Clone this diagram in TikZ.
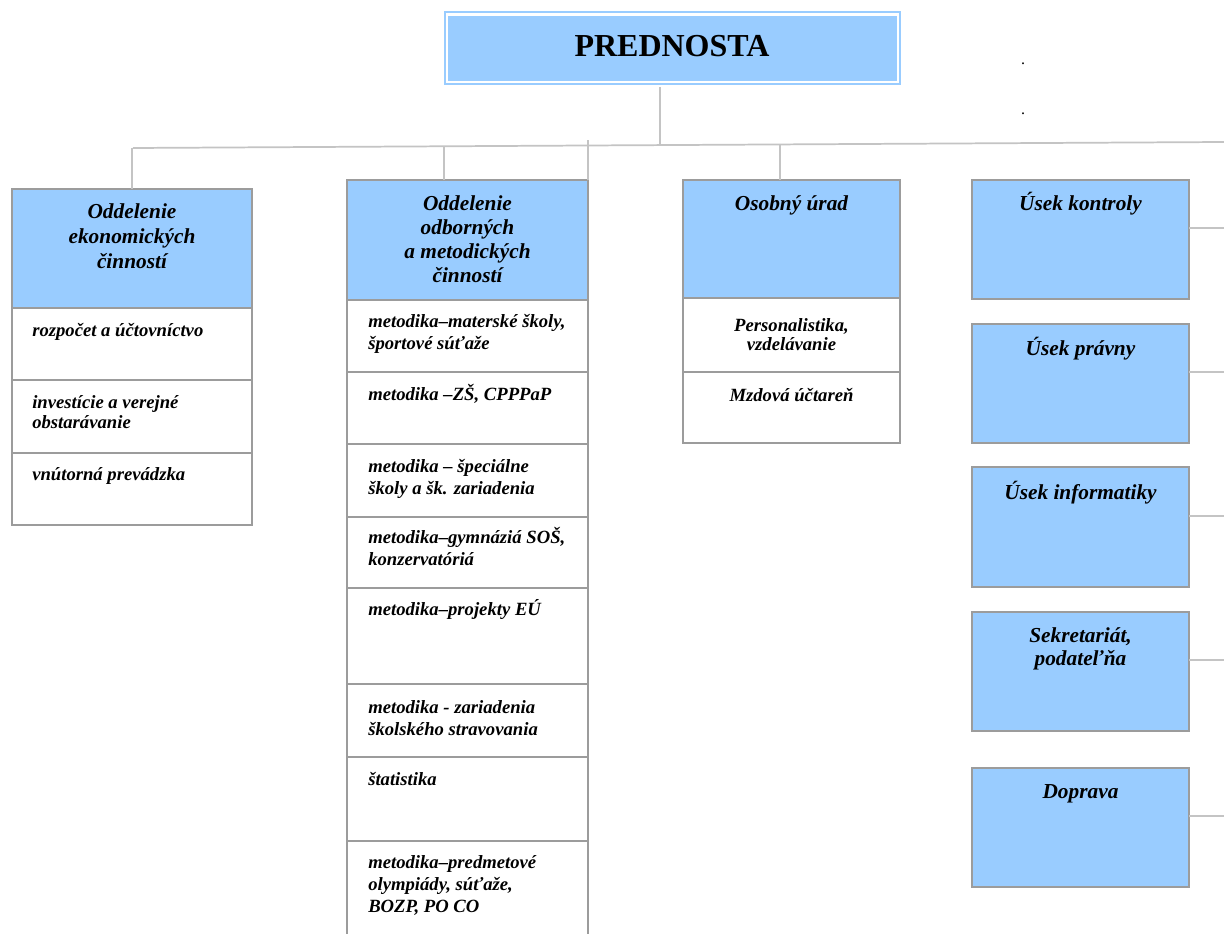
\documentclass[tikz,border=0pt]{standalone}
\usepackage{fontspec}
\setmainfont{Liberation Serif}
\usetikzlibrary{fit}
\definecolor{boxblue}{HTML}{99CCFF}
\definecolor{boxgray}{HTML}{9C9C9C}
\definecolor{conngray}{HTML}{C4C4C4}
\newcommand\stA{\rule{0pt}{15pt}}
\newcommand\stB{\rule{0pt}{13pt}}
\newcommand\stC{\rule{0pt}{20pt}}
\tikzset{
 bx/.style={draw=boxgray, line width=1.5pt, inner sep=0pt, outer sep=0pt, rectangle},
 hd/.style={bx, fill=boxblue},
 cl/.style={bx, fill=white},
 conn/.style={draw=conngray, line width=1.3pt},
 htxt/.style={font=\fontsize{16}{18.5}\selectfont\bfseries\itshape, align=center, inner sep=0pt, anchor=north, yshift=15pt},
 ctxt/.style={font=\fontsize{14}{16.5}\selectfont\bfseries\itshape, align=left, inner sep=0pt, anchor=north west, yshift=13pt},
 cctxt/.style={ctxt, align=center, anchor=north},
}
\begin{document}
\begin{tikzpicture}[x=0.75pt,y=-0.75pt]
\useasboundingbox (0,0) rectangle (1224,934);
\fill[white] (0,0) rectangle (1224,934);
\clip (0,0) rectangle (1224,934);

% --- top box
\node[draw=boxblue, line width=1pt, inner sep=0pt, fit={(445,12) (900,84)}] (pr) {};
\node[fill=boxblue, inner sep=0pt, fit={(448,16) (897,81)}] (prin) {};
\node[font=\fontsize{24}{28}\selectfont\bfseries, inner sep=0pt, anchor=north, yshift=20pt] (prt) at (672,56) {\stC PREDNOSTA};
\node[font=\fontsize{12}{14}\selectfont, inner sep=0pt, anchor=base] (dot1) at (1023,65) {.};
\node[font=\fontsize{12}{14}\selectfont, inner sep=0pt, anchor=base] (dot2) at (1023,115) {.};

% --- boxes: economic
\node[hd, fit={(12,189) (252,308)}] (eh) {};
\node[cl, fit={(12,308) (252,380)}] (e1) {};
\node[cl, fit={(12,380) (252,453)}] (e2) {};
\node[cl, fit={(12,453) (252,525)}] (e3) {};

% --- boxes: methodical
\node[hd, fit={(347,180) (588,300)}] (oh) {};
\node[cl, fit={(347,300) (588,372)}] (o1) {};
\node[cl, fit={(347,372) (588,444)}] (o2) {};
\node[cl, fit={(347,444) (588,517)}] (o3) {};
\node[cl, fit={(347,517) (588,588)}] (o4) {};
\node[cl, fit={(347,588) (588,684)}] (o5) {};
\node[cl, fit={(347,684) (588,757)}] (o6) {};
\node[cl, fit={(347,757) (588,841)}] (o7) {};
\node[cl, fit={(347,841) (588,960)}] (o8) {};

% --- boxes: personnel
\node[hd, fit={(683,180) (900,298)}] (uh) {};
\node[cl, fit={(683,298) (900,372)}] (u1) {};
\node[cl, fit={(683,372) (900,443)}] (u2) {};

% --- boxes: right column
\node[hd, fit={(972,180) (1189,299)}] (sk) {};
\node[hd, fit={(972,324) (1189,443)}] (sp) {};
\node[hd, fit={(972,467) (1189,587)}] (si) {};
\node[hd, fit={(972,612) (1189,731)}] (ss) {};
\node[hd, fit={(972,768) (1189,887)}] (sd) {};

% --- connectors
\coordinate (busL) at (133,148);
\coordinate (busR) at (1224,142);
\coordinate (jE) at (132,148);
\coordinate (jO) at (444,146.3);
\coordinate (jP) at (660,145.1);
\coordinate (jU) at (780,144.4);
\coordinate (prb) at (660,87);
\coordinate (oTop) at (588,140);
\draw[conn] (busL) -- (busR);
\draw[conn] (prb) -- (jP);
\draw[conn] (eh.north -| jE) -- (jE);
\draw[conn] (oh.north -| jO) -- (jO);
\draw[conn] (uh.north -| jU) -- (jU);
\draw[conn] (oh.north east) -- (oTop);
\coordinate (rk) at (1224,228);
\coordinate (rp) at (1224,372);
\coordinate (ri) at (1224,516);
\coordinate (rs) at (1224,660);
\coordinate (rd) at (1224,816);
\draw[conn] (sk.east |- rk) -- (rk);
\draw[conn] (sp.east |- rp) -- (rp);
\draw[conn] (si.east |- ri) -- (ri);
\draw[conn] (ss.east |- rs) -- (rs);
\draw[conn] (sd.east |- rd) -- (rd);

% --- texts
\node[htxt, font=\fontsize{16}{18.75}\selectfont\bfseries\itshape] (eht) at (132,218) {\stA Oddelenie\\ekonomických\\činností};
\node[ctxt] (e1t) at (32,336) {\stB rozpočet a účtovníctvo};
\node[ctxt, font=\fontsize{14}{15}\selectfont\bfseries\itshape] (e2t) at (32,408) {\stB investície a verejné\\obstarávanie};
\node[ctxt] (e3t) at (32,480) {\stB vnútorná prevádzka};

\node[htxt, font=\fontsize{16}{18}\selectfont\bfseries\itshape] (oht) at (467.5,210) {\stA Oddelenie\\odborných\\a metodických\\činností};
\node[ctxt] (o1t) at (368,327) {\stB metodika–materské školy,\\športové súťaže};
\node[ctxt] (o2t) at (368,400) {\stB metodika –ZŠ, CPPPaP};
\node[ctxt] (o3t) at (368,472) {\stB metodika – špeciálne\\školy a šk. zariadenia};
\node[ctxt] (o4t) at (368,543) {\stB metodika–gymnáziá SOŠ,\\konzervatóriá};
\node[ctxt] (o5t) at (368,615) {\stB metodika–projekty EÚ};
\node[ctxt] (o6t) at (368,713) {\stB metodika - zariadenia\\školského stravovania};
\node[ctxt] (o7t) at (368,785) {\stB štatistika};
\node[ctxt] (o8t) at (368,868) {\stB metodika–predmetové\\olympiády, súťaže,\\BOZP, PO CO};

\node[htxt] (uht) at (791.5,210) {\stA Osobný úrad};
\node[cctxt, font=\fontsize{14}{14.5}\selectfont\bfseries\itshape] (u1t) at (791.5,331) {\stB Personalistika,\\vzdelávanie};
\node[cctxt] (u2t) at (791.5,401) {\stB Mzdová účtareň};

\node[htxt] (skt) at (1080.5,210) {\stA Úsek kontroly};
\node[htxt] (spt) at (1080.5,355) {\stA Úsek právny};
\node[htxt] (sit) at (1080.5,499) {\stA Úsek informatiky};
\node[htxt, font=\fontsize{16}{17.25}\selectfont\bfseries\itshape] (sst) at (1080.5,642) {\stA Sekretariát,\\podateľňa};
\node[htxt] (sdt) at (1080.5,798) {\stA Doprava};
\end{tikzpicture}
\end{document}
